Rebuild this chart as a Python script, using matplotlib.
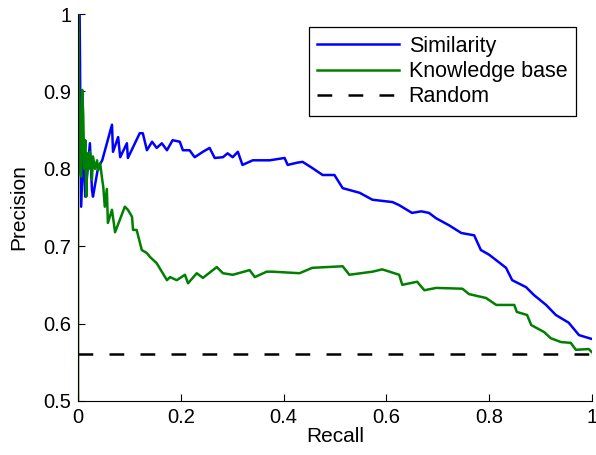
import matplotlib
matplotlib.use('Agg')
import matplotlib.pyplot as plt
from matplotlib.ticker import FormatStrFormatter

plt.rcParams['font.family'] = ['Liberation Sans', 'DejaVu Sans']

# Similarity curve (recall, precision)
sim_recall = [0.003, 0.006, 0.010, 0.014, 0.023, 0.027, 0.029, 0.039, 0.047, 0.066,
              0.068, 0.078, 0.082, 0.095, 0.097, 0.120, 0.126, 0.134, 0.144, 0.153,
              0.163, 0.173, 0.184, 0.198, 0.204, 0.217, 0.227, 0.243, 0.256, 0.266,
              0.282, 0.291, 0.301, 0.311, 0.320, 0.340, 0.373, 0.402, 0.408, 0.427,
              0.437, 0.456, 0.476, 0.499, 0.515, 0.548, 0.573, 0.612, 0.625, 0.650,
              0.668, 0.683, 0.697, 0.722, 0.746, 0.771, 0.784, 0.800, 0.833, 0.845,
              0.872, 0.887, 0.911, 0.930, 0.955, 0.975, 1.000]
sim_precision = [1.000, 0.751, 0.828, 0.764, 0.833, 0.773, 0.764, 0.802, 0.811, 0.857,
                 0.822, 0.841, 0.815, 0.833, 0.814, 0.846, 0.846, 0.824, 0.835, 0.827,
                 0.833, 0.824, 0.837, 0.835, 0.824, 0.824, 0.815, 0.822, 0.827, 0.814,
                 0.815, 0.820, 0.815, 0.822, 0.805, 0.811, 0.811, 0.814, 0.805, 0.808,
                 0.809, 0.801, 0.792, 0.792, 0.775, 0.769, 0.760, 0.757, 0.753, 0.743,
                 0.745, 0.743, 0.736, 0.727, 0.717, 0.714, 0.695, 0.689, 0.672, 0.656,
                 0.647, 0.637, 0.624, 0.611, 0.601, 0.585, 0.580]

# Knowledge base curve (recall, precision)
kb_recall = [0.000, 0.000, 0.004, 0.006, 0.008, 0.010, 0.012, 0.014, 0.016, 0.018,
             0.021, 0.023, 0.027, 0.029, 0.033, 0.037, 0.039, 0.043, 0.047, 0.049,
             0.052, 0.056, 0.058, 0.066, 0.072, 0.091, 0.097, 0.105, 0.107, 0.114,
             0.124, 0.134, 0.140, 0.153, 0.163, 0.173, 0.179, 0.192, 0.208, 0.214,
             0.231, 0.243, 0.270, 0.282, 0.301, 0.334, 0.344, 0.367, 0.379, 0.431,
             0.456, 0.515, 0.528, 0.573, 0.592, 0.625, 0.631, 0.660, 0.674, 0.697,
             0.748, 0.761, 0.794, 0.814, 0.849, 0.854, 0.874, 0.882, 0.907, 0.920,
             0.940, 0.959, 0.969, 0.994, 1.000]
kb_precision = [0.500, 1.000, 0.800, 0.790, 0.902, 0.870, 0.800, 0.837, 0.764, 0.820,
                0.800, 0.822, 0.786, 0.816, 0.800, 0.811, 0.798, 0.807, 0.786, 0.777,
                0.751, 0.774, 0.730, 0.747, 0.718, 0.751, 0.747, 0.738, 0.721, 0.721,
                0.695, 0.691, 0.686, 0.678, 0.667, 0.656, 0.660, 0.656, 0.663, 0.652,
                0.665, 0.659, 0.673, 0.665, 0.663, 0.669, 0.660, 0.667, 0.667, 0.665,
                0.672, 0.674, 0.663, 0.667, 0.670, 0.663, 0.650, 0.654, 0.643, 0.646,
                0.645, 0.638, 0.633, 0.624, 0.624, 0.615, 0.611, 0.598, 0.589, 0.581,
                0.576, 0.575, 0.566, 0.567, 0.563]

random_level = 0.56
series_labels = ['Similarity', 'Knowledge base', 'Random']

fig = plt.figure(figsize=(5.96, 4.55), dpi=100)
ax = fig.add_axes([0.131, 0.119, 0.862, 0.850])

ax.plot(sim_recall, sim_precision, color=(0, 0, 1), lw=1.8, label=series_labels[0])
ax.plot(kb_recall, kb_precision, color=(0, 0.5, 0), lw=1.8, label=series_labels[1])
ax.plot([0, 1], [random_level, random_level], color='k', ls=(0, (5.9, 6.5)), lw=1.8,
        label=series_labels[2])

ax.set_xlim(0, 1)
ax.set_ylim(0.5, 1)
ax.set_xticks([0, 0.2, 0.4, 0.6, 0.8, 1])
ax.set_yticks([0.5, 0.6, 0.7, 0.8, 0.9, 1])
ax.xaxis.set_major_formatter(FormatStrFormatter('%g'))
ax.yaxis.set_major_formatter(FormatStrFormatter('%g'))
ax.tick_params(direction='in', length=5, labelsize=14.5, pad=5)
ax.spines['top'].set_visible(False)
ax.spines['right'].set_visible(False)
ax.set_xlabel('Recall', fontsize=15, labelpad=0)
ax.set_ylabel('Precision', fontsize=15, labelpad=11)

leg = ax.legend(loc='upper right', bbox_to_anchor=(0.969, 0.966), fontsize=15.5,
                handlelength=3.8, handletextpad=0.45, labelspacing=0.2,
                borderpad=0.4, fancybox=False, edgecolor='k', framealpha=1,
                borderaxespad=0)
leg.get_frame().set_linewidth(0.9)

fig.savefig('out.png', dpi=100)
